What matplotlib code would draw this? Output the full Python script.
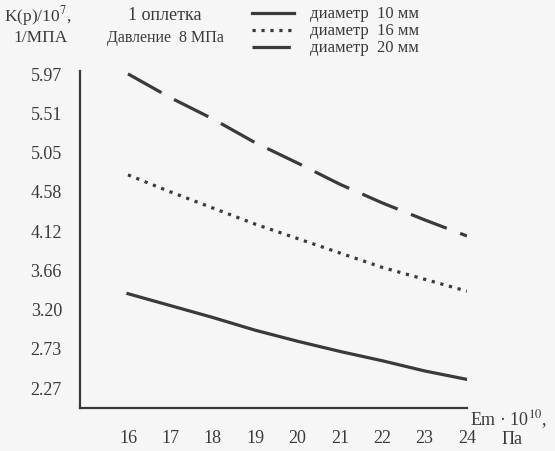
#!/usr/bin/env python3

import matplotlib
matplotlib.use('Agg')
import matplotlib.pyplot as plt
from matplotlib.lines import Line2D
import numpy as np

plt.rcParams['font.family'] = ['Liberation Serif', 'DejaVu Serif']
plt.rcParams['mathtext.fontset'] = 'stix'

# Em * 10^10, Pa
em = [16, 17, 18, 19, 20, 21, 22, 23, 24]

# K(p)/10^7, 1/MPa for each wire diameter
k_d10 = [3.37, 3.23, 3.09, 2.94, 2.81, 2.69, 2.58, 2.46, 2.36]
k_d16 = [4.77, 4.57, 4.38, 4.19, 4.02, 3.85, 3.68, 3.54, 3.40]
k_d20 = [5.96, 5.68, 5.43, 5.15, 4.91, 4.66, 4.44, 4.24, 4.05]

y_tick_labels = ['2.27', '2.73', '3.20', '3.66', '4.12', '4.58', '5.05', '5.51', '5.97']
x_tick_labels = ['16', '17', '18', '19', '20', '21', '22', '23', '24']

legend_labels = ['диаметр  10 мм', 'диаметр  16 мм', 'диаметр  20 мм']

ink = '#3a3a3a'
bg = '#f6f6f6'
lw = 2.3

fig = plt.figure(figsize=(5.55, 4.52), dpi=100, facecolor=bg)
ax = fig.add_axes([0.1441, 0.0951, 0.6973, 0.7456], facecolor=bg)

styles = [
    dict(linestyle='-'),
    dict(linestyle=(0, (1, 1.8)), dash_capstyle='butt'),
    dict(linestyle=(0, (12, 4.5)), dash_capstyle='butt'),
]
series = [k_d10, k_d16, k_d20]
for vals, st in zip(series, styles):
    ax.plot(em, vals, color=ink, linewidth=lw, **st)

ax.set_xlim(14.867, 24.0)
ax.set_ylim(2.023, 5.994)

ax.set_xticks([float(t) for t in x_tick_labels])
ax.set_xticklabels(x_tick_labels)
ax.set_yticks(np.linspace(2.27, 5.97, len(y_tick_labels)))
ax.set_yticklabels(y_tick_labels)
ax.tick_params(length=0, labelsize=13, colors=ink)
ax.tick_params(axis='y', pad=13)
ax.tick_params(axis='x', pad=15)

for side in ['top', 'right']:
    ax.spines[side].set_visible(False)
for side in ['left', 'bottom']:
    ax.spines[side].set_linewidth(1.6)
    ax.spines[side].set_color(ink)

# axis titles
fig.text(38 / 555, 1 - 16 / 452, 'K(p)/10$^{7}$,', ha='center', va='center',
         fontsize=12.5, color=ink)
fig.text(41 / 555, 1 - 38 / 452, '1/МПА', ha='center', va='center',
         fontsize=12.5, color=ink)
fig.text(470 / 555, 1 - 420 / 452, 'Em · 10$^{10}$,', ha='left', va='center',
         fontsize=13, color=ink)
fig.text(512 / 555, 1 - 440 / 452, 'Па', ha='center', va='center',
         fontsize=13, color=ink)

# header notes
fig.text(165 / 555, 1 - 16 / 452, '1 оплетка', ha='center', va='center',
         fontsize=13, color=ink)
fig.text(165 / 555, 1 - 38 / 452, 'Давление  8 МПа', ha='center', va='center',
         fontsize=11.5, color=ink)

# manual legend
rows = [14, 31, 48]
for y, st, lab in zip(rows, styles, legend_labels):
    yf = 1 - y / 452
    fig.add_artist(Line2D([252 / 555, 294 / 555], [yf, yf], color=ink,
                          linewidth=lw, transform=fig.transFigure, **st))
    fig.text(310 / 555, yf, lab, ha='left', va='center', fontsize=12, color=ink)

fig.savefig('out.png', dpi=100, facecolor=bg)
